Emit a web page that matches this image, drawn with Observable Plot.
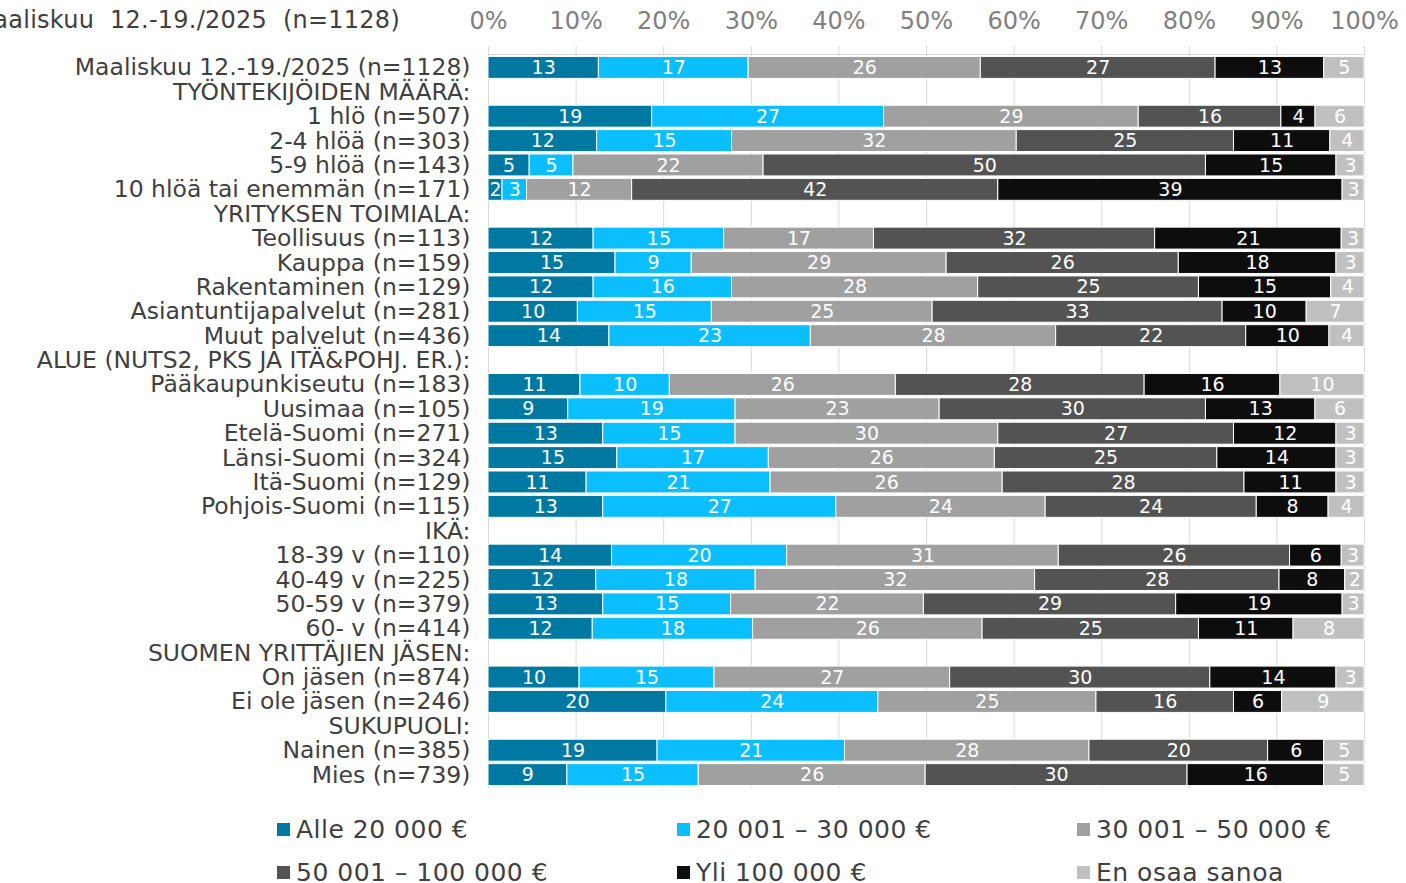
<!DOCTYPE html>
<html>
<head>
<meta charset="utf-8">
<script src="https://cdn.jsdelivr.net/npm/d3@7"></script>
<script src="https://cdn.jsdelivr.net/npm/@observablehq/plot@0.6"></script>
<style>
  body { margin: 0; background: #fff; font-family: "DejaVu Sans", Verdana, sans-serif; }
  #wrap { position: relative; width: 1406px; height: 883px; overflow: hidden; }
  #title { position: absolute; right: 1006px; top: 6px; font-size: 24px; letter-spacing: 0.25px; color: #404040; white-space: pre; }
  #chart { position: absolute; left: 0; top: 0; }
  .item { position: absolute; height: 43px; display: flex; align-items: center; font-size: 25px; letter-spacing: 0.5px; color: #404040; white-space: pre; }
  .sw { width: 13px; height: 13px; margin-right: 6px; }
</style>
</head>
<body>
<div id="wrap">
  <div id="chart"></div>
  <div id="title">Maaliskuu  12.-19./2025  (n=1128)</div>
  <div id="legend"></div>
</div>
<script>
const rowLabels = [
  "Maaliskuu 12.-19./2025 (n=1128)",
  "TYÖNTEKIJÖIDEN MÄÄRÄ:",
  "1 hlö (n=507)",
  "2-4 hlöä (n=303)",
  "5-9 hlöä (n=143)",
  "10 hlöä tai enemmän (n=171)",
  "YRITYKSEN TOIMIALA:",
  "Teollisuus (n=113)",
  "Kauppa (n=159)",
  "Rakentaminen (n=129)",
  "Asiantuntijapalvelut (n=281)",
  "Muut palvelut (n=436)",
  "ALUE (NUTS2, PKS JA ITÄ&POHJ. ER.):",
  "Pääkaupunkiseutu (n=183)",
  "Uusimaa (n=105)",
  "Etelä-Suomi (n=271)",
  "Länsi-Suomi (n=324)",
  "Itä-Suomi (n=129)",
  "Pohjois-Suomi (n=115)",
  "IKÄ:",
  "18-39 v (n=110)",
  "40-49 v (n=225)",
  "50-59 v (n=379)",
  "60- v (n=414)",
  "SUOMEN YRITTÄJIEN JÄSEN:",
  "On jäsen (n=874)",
  "Ei ole jäsen (n=246)",
  "SUKUPUOLI:",
  "Nainen (n=385)",
  "Mies (n=739)"
];
const headerRows = [
  "TYÖNTEKIJÖIDEN MÄÄRÄ:", "YRITYKSEN TOIMIALA:", "ALUE (NUTS2, PKS JA ITÄ&POHJ. ER.):",
  "IKÄ:", "SUOMEN YRITTÄJIEN JÄSEN:", "SUKUPUOLI:"
];
const dataRows = rowLabels.filter(r => !headerRows.includes(r));

const categories = ["Alle 20 000 €", "20 001 – 30 000 €", "30 001 – 50 000 €", "50 001 – 100 000 €", "Yli 100 000 €", "En osaa sanoa"];
const colors = ["#0079A2", "#0BBFFE", "#A0A0A0", "#535353", "#0D0D0D", "#C0C0C0"];

// printed (rounded) percentages shown inside the bars
const alle20   = [13, 19,12,5,2, 12,15,12,10,14, 11,9,13,15,11,13, 14,12,13,12, 10,20, 19,9];
const s20to30  = [17, 27,15,5,3, 15,9,16,15,23, 10,19,15,17,21,27, 20,18,15,18, 15,24, 21,15];
const s30to50  = [26, 29,32,22,12, 17,29,28,25,28, 26,23,30,26,26,24, 31,32,22,26, 27,25, 28,26];
const s50to100 = [27, 16,25,50,42, 32,26,25,33,22, 28,30,27,25,28,24, 26,28,29,25, 30,16, 20,30];
const yli100   = [13, 4,11,15,39, 21,18,15,10,10, 16,13,12,14,11,8, 6,8,19,11, 14,6, 6,16];
const eos      = [5, 6,4,3,3, 3,3,4,7,4, 10,6,3,3,3,4, 3,2,3,8, 3,9, 5,5];
const labelSeries = [alle20, s20to30, s30to50, s50to100, yli100, eos];

// segment widths (unrounded shares)
const alle20Share   = [12.6, 18.7,12.4,4.7,1.6, 12.0,14.5,12.0,10.2,13.8, 10.5,9.1,13.1,14.7,11.2,13.1, 14.1,12.3,13.1,11.9, 10.4,20.3, 19.3,9.0];
const s20to30Share  = [17.1, 26.5,15.4,5.0,2.8, 14.9,8.7,15.8,15.3,23.0, 10.2,19.1,15.1,17.3,21.0,26.6, 20.0,18.2,14.6,18.3, 15.4,24.2, 21.4,15.0];
const s30to50Share  = [26.5, 29.1,32.5,21.7,12.0, 17.1,29.1,28.1,25.2,28.0, 25.8,23.3,30.0,25.8,26.5,23.9, 31.0,31.9,22.0,26.2, 26.9,24.9, 27.9,25.9];
const s50to100Share = [26.8, 16.3,24.8,50.5,41.8, 32.1,26.5,25.2,33.1,21.7, 28.4,30.4,26.9,25.4,27.6,24.1, 26.4,27.9,28.8,24.7, 29.7,15.7, 20.4,29.9];
const yli100Share   = [12.4, 3.9,11.0,14.9,39.3, 21.3,18.0,15.1,9.6,9.5, 15.5,12.5,11.7,13.6,10.5,8.2, 5.9,7.5,19.0,10.8, 14.4,5.5, 6.4,15.6];
const eosShare      = [4.6, 5.6,3.9,3.2,2.5, 2.6,3.2,3.8,6.6,4.0, 9.6,5.6,3.2,3.2,3.2,4.1, 2.6,2.2,2.5,8.1, 3.2,9.4, 4.6,4.6];
const shareSeries = [alle20Share, s20to30Share, s30to50Share, s50to100Share, yli100Share, eosShare];

const xTicks = [0, 0.1, 0.2, 0.3, 0.4, 0.5, 0.6, 0.7, 0.8, 0.9, 1];
const xTickLabels = ["0%", "10%", "20%", "30%", "40%", "50%", "60%", "70%", "80%", "90%", "100%"];

const data = [];
dataRows.forEach((r, i) => {
  categories.forEach((c, j) => data.push({row: r, cat: c, value: shareSeries[j][i], label: labelSeries[j][i]}));
});

const FONT = '"DejaVu Sans", Verdana, sans-serif';
const marginTop = 54;

const chart = Plot.plot({
  width: 1406,
  height: 800,
  marginLeft: 488,
  marginRight: 42,
  marginTop: marginTop,
  marginBottom: 12,
  style: {fontFamily: FONT, fontSize: "24px", color: "#404040", background: "white", overflow: "visible"},
  x: {domain: [0, 1], axis: null},
  y: {domain: rowLabels, padding: 0.1, round: false, axis: null},
  color: {domain: categories, range: colors},
  marks: [
    Plot.gridX(xTicks, {stroke: "#d9d9d9", strokeOpacity: 1}),
    Plot.axisX({
      anchor: "top", ticks: xTicks, tickFormat: (d, i) => xTickLabels[i],
      tickSize: 9, tickPadding: 17, stroke: "#d9d9d9", fill: "#808080",
      fontSize: 24, label: null
    }),
    Plot.axisY({
      tickSize: 0, tickPadding: 18, fill: "#404040", fontSize: 23.5, label: null
    }),
    Plot.barX(data, Plot.stackX({
      x: "value", y: "row", fill: "cat", offset: "normalize",
      stroke: "white", strokeWidth: 1
    })),
    Plot.text(data, Plot.stackX({
      x: "value", y: "row", z: "cat", offset: "normalize",
      text: d => String(d.label), fill: "white", fontSize: 19
    }))
  ]
});

// top axis line (as in the reference) using the chart's x scale
const xs = chart.scale("x");
d3.select(chart).append("line")
  .attr("x1", xs.apply(0)).attr("x2", xs.apply(1))
  .attr("y1", marginTop + 0.5).attr("y2", marginTop + 0.5)
  .attr("stroke", "#d9d9d9");

document.getElementById("chart").appendChild(chart);

// legend
const legend = document.getElementById("legend");
categories.forEach((c, i) => {
  const col = i % 3, row = Math.floor(i / 3);
  const it = document.createElement("div");
  it.className = "item";
  it.style.left = (277 + col * 400) + "px";
  it.style.top = (808 + row * 43) + "px";
  const sw = document.createElement("div");
  sw.className = "sw";
  sw.style.background = colors[i];
  const tx = document.createElement("span");
  tx.textContent = c;
  it.appendChild(sw);
  it.appendChild(tx);
  legend.appendChild(it);
});
</script>
</body>
</html>
